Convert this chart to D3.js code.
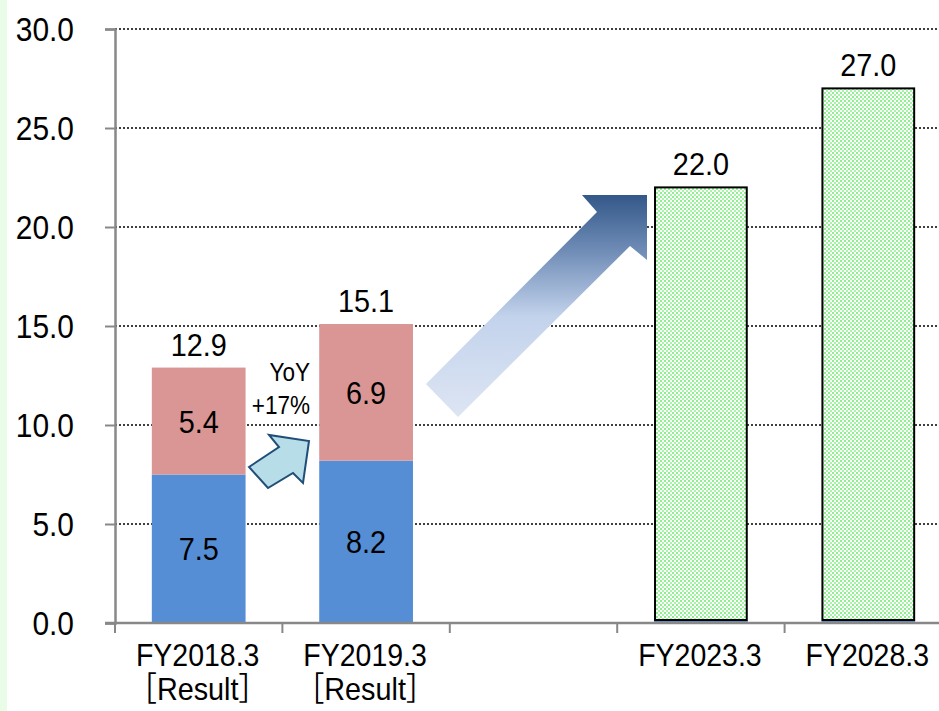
<!DOCTYPE html>
<head>
<meta charset="utf-8">
<script src="https://d3js.org/d3.v7.min.js"></script>
</head>
<body style="margin:0;background:#fff">
<style>
  * { font-family: "Liberation Sans", Arial, "Noto Sans CJK JP", sans-serif; }
</style>
<div id="viz"></div>
<script>

// chart data
var categories = ["FY2018.3", "FY2019.3", "gap", "FY2023.3", "FY2028.3"];
var subLabels  = ["［Result］", "［Result］", "", "", ""];
var blueVals   = [7.5, 8.2, null, 0.1, 0.1];
var pinkVals   = [5.4, 6.9, null, null, null];
var planVals   = [null, null, null, 22.0, 27.0];
var totals     = [12.9, 15.1, null, 22.0, 27.0];
var yTicks     = [0, 5, 10, 15, 20, 25, 30];

var width = 939, height = 711;
var svg = d3.select("#viz").append("svg")
    .attr("width", width)
    .attr("height", height);

// the source font is a bit narrower than Arial
function condense(sel, k) {
  sel.each(function() {
    var w = this.getComputedTextLength();
    d3.select(this).attr("textLength", w * k).attr("lengthAdjust", "spacingAndGlyphs");
  });
}

// light green strip on the left edge
svg.append("rect")
    .attr("x", 0).attr("y", 0)
    .attr("width", 7).attr("height", height)
    .attr("fill", "#e8fce8");

var defs = svg.append("defs");

// dotted green fill for plan bars
var pat = defs.append("pattern")
    .attr("id", "dots")
    .attr("width", 4).attr("height", 4)
    .attr("patternUnits", "userSpaceOnUse");
pat.append("rect").attr("width", 4).attr("height", 4).attr("fill", "#fff");
pat.append("rect").attr("x", 0).attr("y", 0).attr("width", 2).attr("height", 2).attr("fill", "#8ef08e");
pat.append("rect").attr("x", 2).attr("y", 2).attr("width", 2).attr("height", 2).attr("fill", "#a8f4a8");

// gradient for the big arrow
var grad = defs.append("linearGradient")
    .attr("id", "arrowGrad")
    .attr("x1", 0).attr("y1", 0).attr("x2", 0).attr("y2", 1);
grad.append("stop").attr("offset", "0%").attr("stop-color", "#335889");
grad.append("stop").attr("offset", "25%").attr("stop-color", "#6f8cb6");
grad.append("stop").attr("offset", "55%").attr("stop-color", "#c3d3ec");
grad.append("stop").attr("offset", "100%").attr("stop-color", "#dde5f3");

var x = d3.scaleBand()
    .domain(categories)
    .range([115, 952])
    .paddingInner(0.44)
    .paddingOuter(0.22);

var y = d3.scaleLinear()
    .domain([0, 30])
    .range([623, 29]);

// dotted gridlines
svg.append("g")
  .selectAll("line")
  .data(yTicks.filter(function(d) { return d > 0; }))
  .join("line")
    .attr("x1", 115).attr("x2", width)
    .attr("y1", function(d) { return y(d); })
    .attr("y2", function(d) { return y(d); })
    .attr("stroke", "#000")
    .attr("stroke-width", 1.5)
    .attr("stroke-dasharray", "2,2");

// y axis
var yAxis = svg.append("g")
    .attr("transform", "translate(115,0)")
    .call(d3.axisLeft(y).tickValues(yTicks).tickFormat(d3.format(".1f")).tickSize(10).tickPadding(31));
yAxis.select(".domain").attr("stroke", "#888").attr("stroke-width", 2.5);
yAxis.selectAll(".tick line").attr("stroke", "#888").attr("stroke-width", 2);
yAxis.selectAll(".tick text")
    .attr("fill", "#000")
    .style("font-size", "34px")
    .attr("dy", "0.35em")
    .call(condense, 0.88);

// stacked bars
svg.append("g").selectAll("rect")
  .data(categories.map(function(c, i) { return {c: c, v: blueVals[i]}; }).filter(function(d) { return d.v != null; }))
  .join("rect")
    .attr("x", function(d) { return x(d.c); })
    .attr("width", x.bandwidth())
    .attr("y", function(d) { return y(d.v); })
    .attr("height", function(d) { return y(0) - y(d.v); })
    .attr("fill", "#558ed5");

svg.append("g").selectAll("rect")
  .data(categories.map(function(c, i) { return {c: c, b: blueVals[i], v: pinkVals[i]}; }).filter(function(d) { return d.v != null; }))
  .join("rect")
    .attr("x", function(d) { return x(d.c); })
    .attr("width", x.bandwidth())
    .attr("y", function(d) { return y(d.b + d.v); })
    .attr("height", function(d) { return y(d.b) - y(d.b + d.v); })
    .attr("fill", "#d99694");

svg.append("g").selectAll("rect")
  .data(categories.map(function(c, i) { return {c: c, b: blueVals[i], v: planVals[i]}; }).filter(function(d) { return d.v != null; }))
  .join("rect")
    .attr("x", function(d) { return x(d.c) + 1; })
    .attr("width", x.bandwidth() - 2)
    .attr("y", function(d) { return y(d.v); })
    .attr("height", function(d) { return y(d.b) - y(d.v) - 1; })
    .attr("fill", "url(#dots)")
    .attr("stroke", "#000")
    .attr("stroke-width", 2);

// value labels inside segments
var inner = [];
categories.forEach(function(c, i) {
  if (pinkVals[i] != null) {
    inner.push({c: c, v: blueVals[i], mid: blueVals[i] / 2});
    inner.push({c: c, v: pinkVals[i], mid: blueVals[i] + pinkVals[i] / 2});
  }
});
svg.append("g").selectAll("text")
  .data(inner)
  .join("text")
    .attr("x", function(d) { return x(d.c) + x.bandwidth() / 2; })
    .attr("y", function(d) { return y(d.mid); })
    .attr("dy", "0.36em")
    .attr("text-anchor", "middle")
    .style("font-size", "32px")
    .text(function(d) { return d.v.toFixed(1); })
    .call(condense, 0.9);

// totals above bars
svg.append("g").selectAll("text")
  .data(categories.map(function(c, i) { return {c: c, v: totals[i]}; }).filter(function(d) { return d.v != null; }))
  .join("text")
    .attr("x", function(d) { return x(d.c) + x.bandwidth() / 2; })
    .attr("y", function(d) { return y(d.v) - 12; })
    .attr("text-anchor", "middle")
    .style("font-size", "32px")
    .text(function(d) { return d.v.toFixed(1); })
    .call(condense, 0.9);

// x axis line and band ticks
svg.append("line")
    .attr("x1", 105).attr("x2", width)
    .attr("y1", y(0)).attr("y2", y(0))
    .attr("stroke", "#888").attr("stroke-width", 2.5);
svg.append("g").selectAll("line")
  .data(d3.range(categories.length))
  .join("line")
    .attr("x1", function(i) { return 115 + i * x.step(); })
    .attr("x2", function(i) { return 115 + i * x.step(); })
    .attr("y1", y(0)).attr("y2", y(0) + 10)
    .attr("stroke", "#888").attr("stroke-width", 2);

// category labels
var xl = svg.append("g").selectAll("g")
  .data(categories.map(function(c, i) { return {c: c, s: subLabels[i]}; }).filter(function(d) { return d.c != "gap"; }))
  .join("g")
    .attr("transform", function(d) { return "translate(" + (x(d.c) + x.bandwidth() / 2 - 1) + ",0)"; });
xl.append("text")
    .attr("y", 666)
    .attr("text-anchor", "middle")
    .style("font-size", "32px")
    .text(function(d) { return d.c; })
    .call(condense, 0.89);
xl.append("text")
    .attr("y", 700)
    .attr("text-anchor", "middle")
    .style("font-size", "32px")
    .text(function(d) { return d.s; })
    .filter(function(d) { return d.s != ""; })
    .call(condense, 0.9);

// YoY annotation
svg.append("text")
    .attr("x", 310).attr("y", 381)
    .attr("text-anchor", "end")
    .style("font-size", "25px")
    .text("YoY")
    .call(condense, 0.9);
svg.append("text")
    .attr("x", 310).attr("y", 414)
    .attr("text-anchor", "end")
    .style("font-size", "25px")
    .text("+17%")
    .call(condense, 0.9);

// small arrow
svg.append("path")
    .attr("d", "M249,467 L279,447 L269,435 L309,441 L303,483 L293,473 L268,488 Z")
    .attr("fill", "#b7dee8")
    .attr("stroke", "#1f4e79")
    .attr("stroke-width", 2)
    .attr("stroke-linejoin", "miter");

// big gradient arrow
svg.append("path")
    .attr("d", "M426,384 L597,212 L582,195 L647,195 L647,260 L630,246 L458,417 Z")
    .attr("fill", "url(#arrowGrad)");

</script>
</body>
